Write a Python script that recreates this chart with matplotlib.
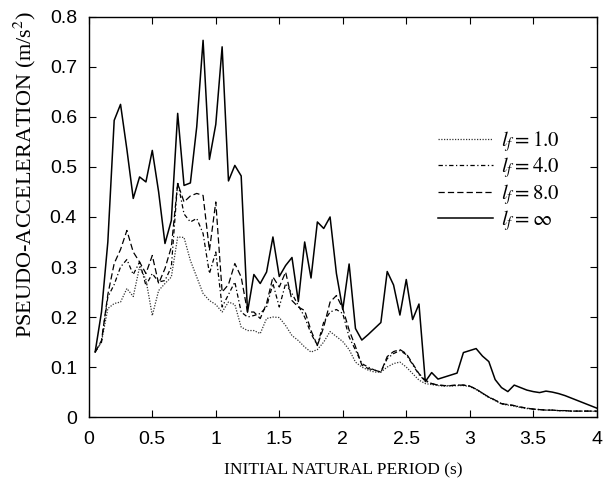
"""
Pseudo-acceleration spectra for several values of l_f, plotted against the
initial natural period.
"""

import matplotlib

matplotlib.use("Agg")
import matplotlib.pyplot as plt

# ---- data ------------------------------------------------------------------

period = [
    0.05, 0.10, 0.15, 0.20, 0.25, 0.30, 0.35, 0.40, 0.45, 0.50,
    0.55, 0.60, 0.65, 0.70, 0.75, 0.80, 0.85, 0.90, 0.95, 1.00,
    1.05, 1.10, 1.15, 1.20, 1.25, 1.30, 1.35, 1.40, 1.45, 1.50,
    1.55, 1.60, 1.65, 1.70, 1.75, 1.80, 1.85, 1.90, 1.95, 2.00,
    2.05, 2.10, 2.15, 2.20, 2.25, 2.30, 2.35, 2.40, 2.45, 2.50,
    2.55, 2.60, 2.65, 2.70, 2.75, 2.80, 2.85, 2.90, 2.95, 3.00,
    3.05, 3.10, 3.15, 3.20, 3.25, 3.30, 3.35, 3.40, 3.45, 3.50,
    3.55, 3.60, 3.65, 3.70, 3.75, 3.80, 3.85, 3.90, 3.95, 4.00,
]

acc_lf_1 = [
    0.130, 0.150, 0.217, 0.227, 0.230, 0.257, 0.241, 0.300, 0.275, 0.203,
    0.253, 0.267, 0.280, 0.360, 0.359, 0.313, 0.280, 0.247, 0.233, 0.225,
    0.210, 0.230, 0.225, 0.180, 0.173, 0.173, 0.167, 0.197, 0.200, 0.199,
    0.183, 0.163, 0.153, 0.140, 0.130, 0.135, 0.150, 0.171, 0.161, 0.151,
    0.135, 0.110, 0.100, 0.094, 0.090, 0.090, 0.100, 0.107, 0.110, 0.100,
    0.087, 0.074, 0.067, 0.065, 0.063, 0.062, 0.062, 0.063, 0.063, 0.061,
    0.055, 0.047, 0.039, 0.033, 0.026, 0.024, 0.022, 0.019, 0.017, 0.016,
    0.015, 0.014, 0.014, 0.013, 0.013, 0.012, 0.012, 0.012, 0.012, 0.011,
]

acc_lf_4 = [
    0.130, 0.150, 0.240, 0.265, 0.300, 0.315, 0.285, 0.310, 0.263, 0.287,
    0.270, 0.273, 0.300, 0.470, 0.406, 0.390, 0.397, 0.367, 0.287, 0.330,
    0.220, 0.245, 0.270, 0.210, 0.200, 0.203, 0.207, 0.220, 0.267, 0.220,
    0.267, 0.247, 0.223, 0.200, 0.167, 0.143, 0.190, 0.210, 0.215, 0.207,
    0.160, 0.134, 0.107, 0.100, 0.094, 0.090, 0.117, 0.127, 0.133, 0.125,
    0.105, 0.085, 0.072, 0.067, 0.064, 0.063, 0.063, 0.064, 0.064, 0.062,
    0.056, 0.048, 0.040, 0.034, 0.027, 0.025, 0.023, 0.020, 0.018, 0.016,
    0.015, 0.014, 0.014, 0.013, 0.013, 0.012, 0.012, 0.012, 0.012, 0.012,
]

acc_lf_8 = [
    0.130, 0.153, 0.245, 0.307, 0.335, 0.373, 0.330, 0.310, 0.287, 0.323,
    0.267, 0.297, 0.340, 0.467, 0.430, 0.442, 0.447, 0.443, 0.333, 0.430,
    0.250, 0.265, 0.307, 0.280, 0.210, 0.210, 0.197, 0.227, 0.280, 0.260,
    0.290, 0.233, 0.220, 0.213, 0.173, 0.143, 0.180, 0.230, 0.243, 0.217,
    0.174, 0.141, 0.104, 0.097, 0.094, 0.090, 0.121, 0.131, 0.135, 0.127,
    0.107, 0.087, 0.074, 0.067, 0.064, 0.063, 0.063, 0.064, 0.064, 0.062,
    0.056, 0.048, 0.040, 0.034, 0.027, 0.025, 0.023, 0.020, 0.018, 0.016,
    0.015, 0.014, 0.014, 0.013, 0.013, 0.012, 0.012, 0.012, 0.012, 0.012,
]

acc_lf_inf = [
    0.130, 0.210, 0.350, 0.593, 0.625, 0.535, 0.437, 0.480, 0.470, 0.533,
    0.450, 0.347, 0.393, 0.607, 0.463, 0.468, 0.580, 0.753, 0.515, 0.585,
    0.740, 0.472, 0.503, 0.482, 0.210, 0.285, 0.267, 0.290, 0.360, 0.281,
    0.303, 0.319, 0.231, 0.350, 0.278, 0.390, 0.377, 0.400, 0.287, 0.215,
    0.306, 0.177, 0.154, 0.165, 0.177, 0.189, 0.291, 0.264, 0.204, 0.275,
    0.195, 0.226, 0.071, 0.089, 0.076, 0.080, 0.084, 0.088, 0.129, 0.133,
    0.137, 0.122, 0.111, 0.075, 0.059, 0.051, 0.064, 0.059, 0.054, 0.051,
    0.049, 0.052, 0.050, 0.047, 0.043, 0.038, 0.033, 0.028, 0.023, 0.018,
]

x_ticks = [0, 0.5, 1, 1.5, 2, 2.5, 3, 3.5, 4]
x_tick_labels = ["0", "0.5", "1", "1.5", "2", "2.5", "3", "3.5", "4"]
y_ticks = [0, 0.1, 0.2, 0.3, 0.4, 0.5, 0.6, 0.7, 0.8]
y_tick_labels = ["0", "0.1", "0.2", "0.3", "0.4", "0.5", "0.6", "0.7", "0.8"]

# ---- plot ------------------------------------------------------------------

plt.rcParams["mathtext.fontset"] = "stix"
SERIF = "Liberation Serif"
SANS = "Liberation Sans"

fig = plt.figure(figsize=(6.04, 4.80), dpi=100)
ax = fig.add_axes([0.147, 0.131, 0.841, 0.834])

ax.plot(period, acc_lf_1, color="#333333", lw=0.9, linestyle=(0, (1, 1.2)),
        label=r"$l_f = 1.0$")
ax.plot(period, acc_lf_4, color="black", lw=0.9,
        linestyle=(0, (3.5, 2, 1, 2)), label=r"$l_f = 4.0$")
ax.plot(period, acc_lf_8, color="black", lw=0.9, linestyle=(0, (5, 2.5)),
        label=r"$l_f = 8.0$")
ax.plot(period, acc_lf_inf, color="black", lw=1.1, linestyle="-",
        label=r"$l_f = \infty$")

ax.set_xlim(0, 4)
ax.set_ylim(0, 0.8)
ax.set_xticks(x_ticks)
ax.set_xticklabels(x_tick_labels, fontfamily=SANS, fontsize=14)
ax.set_yticks(y_ticks)
ax.set_yticklabels(y_tick_labels, fontfamily=SANS, fontsize=14)
ax.tick_params(direction="in", length=5, width=0.8, top=True, right=True)
ax.tick_params(axis="x", pad=10)
ax.tick_params(axis="y", pad=8.5)
for spine in ax.spines.values():
    spine.set_linewidth(1.0)

ax.set_xlabel("INITIAL NATURAL PERIOD (s)", fontfamily=SERIF, fontsize=12.5,
              labelpad=10.5)
ax.set_ylabel(r"PSEUDO-ACCELERATION (m/s$^2$)", fontfamily=SERIF,
              fontsize=16)
ax.yaxis.set_label_coords(-0.099, 0.607)

leg = ax.legend(loc="upper left", bbox_to_anchor=(0.672, 0.74), frameon=False,
                fontsize=15, handlelength=2.6, handletextpad=0.38,
                labelspacing=0.07, borderaxespad=0)

fig.savefig("out.png", dpi=100)
plt.close(fig)
